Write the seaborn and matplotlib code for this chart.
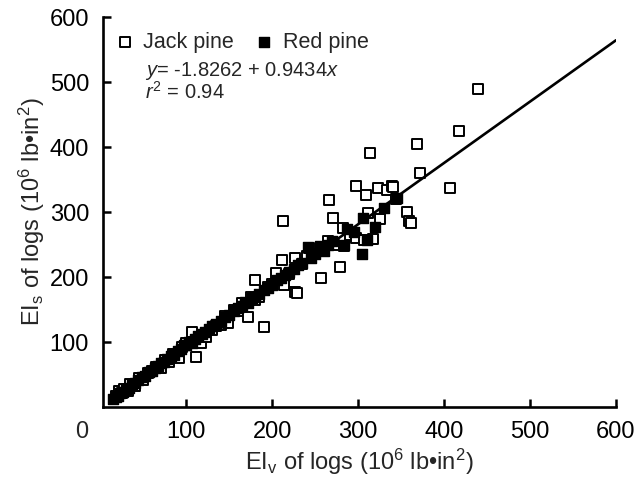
import numpy as np
import pandas as pd
import matplotlib
matplotlib.use("Agg")
import matplotlib.pyplot as plt
import seaborn as sns

# 数据：从图中估读 (EIv, EIs)，单位 10^6 lb·in^2
jack_x = [18, 22, 25, 28, 32, 35, 40, 45, 50, 55, 60, 65, 70, 75, 80, 85, 91, 95,
          100, 107, 111, 117, 123, 130, 135, 140, 145, 149, 155, 160, 165, 172, 175,
          180, 180, 185, 190, 195, 200, 204, 211, 213, 214, 220, 226, 227, 229, 235,
          240, 243, 250, 257, 260, 265, 266, 271, 272, 279, 282, 283, 290, 297, 298,
          307, 309, 311, 314, 317, 323, 325, 333, 339, 340, 344, 357, 359, 361, 368,
          372, 407, 417, 440]
jack_y = [17, 24, 21, 28, 25, 35, 33, 45, 42, 52, 55, 62, 60, 72, 70, 82, 75, 92,
          98, 115, 77, 98, 108, 118, 125, 126, 140, 129, 150, 148, 160, 138, 170,
          195, 165, 170, 123, 185, 190, 206, 226, 286, 188, 205, 229, 177, 175, 220,
          232, 245, 235, 198, 240, 255, 318, 291, 250, 215, 275, 247, 265, 260, 340,
          257, 326, 298, 391, 258, 337, 290, 334, 340, 338, 320, 300, 286, 283, 405,
          360, 337, 425, 489]

red_x = [15, 18, 20, 23, 26, 30, 33, 37, 40, 44, 48, 52, 56, 60, 63, 67, 70, 74,
         78, 82, 86, 90, 94, 97, 100, 103, 106, 110, 114, 118, 122, 126, 130, 135,
         140, 145, 150, 155, 160, 165, 168, 172, 176, 180, 185, 190, 195, 200, 205,
         210, 215, 220, 225, 230, 235, 241, 245, 250, 255, 260, 265, 270, 283, 287,
         295, 305, 306, 310, 319, 330, 345]
red_y = [12, 16, 17, 22, 23, 28, 30, 36, 37, 41, 46, 48, 54, 56, 60, 63, 68, 70,
         74, 78, 80, 86, 90, 95, 96, 100, 99, 104, 110, 112, 116, 120, 124, 128,
         133, 138, 142, 147, 152, 156, 162, 160, 168, 170, 174, 180, 183, 188, 195,
         198, 203, 208, 213, 218, 222, 246, 230, 236, 248, 240, 250, 255, 249, 274,
         270, 235, 291, 257, 277, 306, 322]

# 回归方程系数
b0, b1 = -1.8262, 0.9434
r2 = 0.94

sns.set_style("ticks")
plt.rcParams['font.family'] = ['Liberation Sans', 'DejaVu Sans']
plt.rcParams['mathtext.fontset'] = 'custom'
plt.rcParams['mathtext.rm'] = 'Liberation Sans'
plt.rcParams['mathtext.it'] = 'Liberation Sans:italic'

fig = plt.figure(figsize=(6.37, 4.79), dpi=100)
ax = fig.add_axes([0.1617, 0.1503, 0.8053, 0.8142])

sns.scatterplot(x=jack_x, y=jack_y, marker='s', s=60, facecolor='white',
                edgecolor='black', linewidth=1.4, label='Jack pine', ax=ax, zorder=3)
sns.scatterplot(x=red_x, y=red_y, marker='s', s=60, color='black',
                edgecolor='black', linewidth=1.0, label='Red pine', ax=ax, zorder=4)

# 回归直线
line_x = np.array([min(red_x), 600])
line_df = pd.DataFrame({'x': line_x, 'y': b0 + b1 * line_x})
sns.lineplot(data=line_df, x='x', y='y', color='black', linewidth=1.9, ax=ax, zorder=5)

ax.set_xlim(3, 600)
ax.set_ylim(0, 600)
ax.set_xticks([100, 200, 300, 400, 500, 600])
ax.set_yticks([100, 200, 300, 400, 500, 600])
ax.tick_params(direction='in', length=6, width=1.8, labelsize=17, pad=10, colors='black')
for s in ['top', 'right']:
    ax.spines[s].set_visible(False)
for s in ['left', 'bottom']:
    ax.spines[s].set_linewidth(1.9)
    ax.spines[s].set_color('black')

ax.text(-0.041, -0.064, '0', transform=ax.transAxes, ha='center', va='center', fontsize=17)

ax.set_xlabel(r'EI$_\mathrm{v}$ of logs (10$^6$ lb•in$^2$)', fontsize=17, labelpad=3)
ax.set_ylabel(r'EI$_\mathrm{s}$ of logs (10$^6$ lb•in$^2$)', fontsize=17, labelpad=2)

leg = ax.legend(loc='upper left', bbox_to_anchor=(0.021, 0.962), ncol=2, frameon=False,
                fontsize=15.5, handlelength=1.0, handletextpad=0.35, columnspacing=0.93,
                markerscale=0.85, borderaxespad=0, borderpad=0)

ax.text(0.082, 0.861, r'$y$= -1.8262 + 0.9434$x$', transform=ax.transAxes,
        fontsize=14.5, va='center', ha='left')
ax.text(0.082, 0.807, r'$r^2$ = %.2f' % r2, transform=ax.transAxes,
        fontsize=14.5, va='center', ha='left')

plt.savefig('out.png', dpi=100)
plt.close()
